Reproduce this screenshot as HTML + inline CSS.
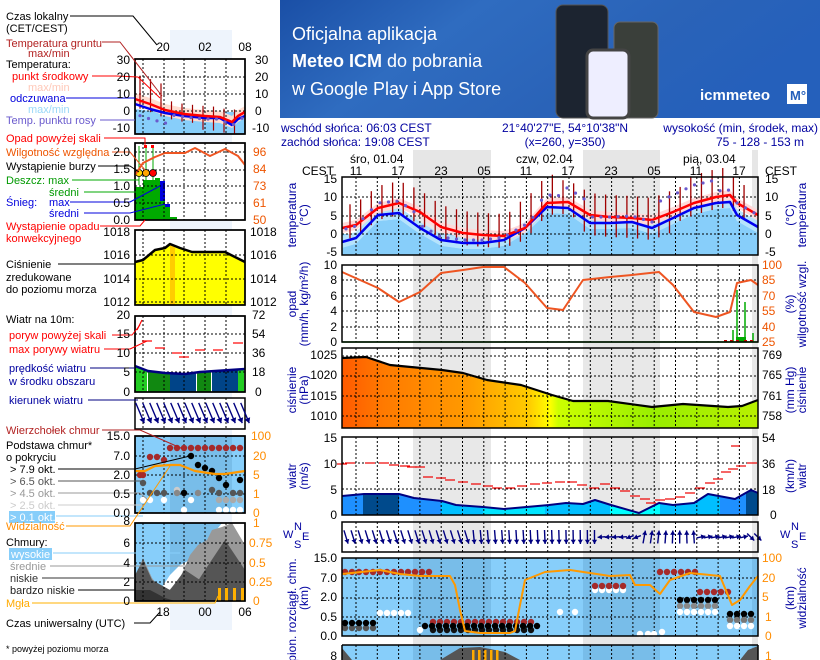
<!DOCTYPE html>
<html><head><meta charset="utf-8"><style>
html,body{margin:0;padding:0;background:#fff;}
svg{display:block;font-family:"Liberation Sans",sans-serif;}
</style></head><body>
<svg id="s" width="820" height="660" viewBox="0 0 820 660" xmlns="http://www.w3.org/2000/svg">
<defs>
<linearGradient id="ban" x1="0" y1="0" x2="1" y2="0.3">
<stop offset="0" stop-color="#1a4fa6"/><stop offset="0.35" stop-color="#2f6cc0"/><stop offset="0.7" stop-color="#2a63b8"/><stop offset="1" stop-color="#2560bb"/></linearGradient>
<linearGradient id="pres" x1="0" y1="0" x2="1" y2="0">
<stop offset="0" stop-color="#ff5a00"/><stop offset="0.1" stop-color="#ff7a00"/><stop offset="0.3" stop-color="#ff9a00"/><stop offset="0.45" stop-color="#ffcc00"/><stop offset="0.5" stop-color="#ffff00"/><stop offset="0.52" stop-color="#ccff00"/><stop offset="0.75" stop-color="#99ee00"/><stop offset="1" stop-color="#b8f000"/></linearGradient>
</defs>
<rect x="280" y="0" width="540" height="118" fill="url(#ban)"/>
<rect x="556" y="5" width="52" height="113" rx="7" fill="#1c2430" stroke="#555"/>
<rect x="614" y="22" width="44" height="96" rx="6" fill="#3a3f3a" stroke="#666"/>
<rect x="587" y="50" width="42" height="68" rx="6" fill="#eef" stroke="#444" stroke-width="3"/>
<text x="292" y="40" fill="#fff" font-size="18">Oficjalna aplikacja</text>
<text x="292" y="67" fill="#fff" font-size="18"><tspan font-weight="bold">Meteo ICM</tspan> do pobrania</text>
<text x="292" y="95" fill="#fff" font-size="18">w Google Play i App Store</text>
<text x="700" y="100" fill="#fff" font-size="15" font-weight="bold">icmmeteo</text>
<rect x="787" y="84" width="20" height="20" fill="#fff"/><text x="790" y="100" fill="#2560bb" font-size="13" font-weight="bold">M°</text>
<g id="g"></g>
<g font-size="12" fill="#000">
<text x="281" y="132" fill="#0000a0">wschód słońca: 06:03 CEST</text>
<text x="281" y="146" fill="#0000a0">zachód słońca: 19:08 CEST</text>
<text x="565" y="132" fill="#0000a0" text-anchor="middle">21°40'27"E, 54°10'38"N</text>
<text x="565" y="146" fill="#0000a0" text-anchor="middle">(x=260,  y=350)</text>
<text x="818" y="132" fill="#0000a0" text-anchor="end">wysokość (min, środek, max)</text>
<text x="760" y="146" fill="#0000a0" text-anchor="middle">75 - 128 - 153 m</text>
<text x="350" y="163">śro, 01.04</text><text x="516" y="163">czw, 02.04</text><text x="683" y="163">pią, 03.04</text>
<text x="302" y="175">CEST</text><text x="765" y="175">CEST</text>
<g text-anchor="middle"><text x="356" y="175">11</text><text x="398" y="175">17</text><text x="441" y="175">23</text><text x="484" y="175">05</text><text x="526" y="175">11</text><text x="568" y="175">17</text><text x="611" y="175">23</text><text x="654" y="175">05</text><text x="696" y="175">11</text><text x="739" y="175">17</text></g>
<g text-anchor="end">
<text x="337" y="183">15</text><text x="337" y="201">10</text><text x="337" y="220">5</text><text x="337" y="238">0</text><text x="337" y="256">-5</text>
<text x="337" y="269">10</text><text x="337" y="284">8</text><text x="337" y="300">6</text><text x="337" y="315">4</text><text x="337" y="331">2</text><text x="337" y="346">0</text>
<text x="337" y="359">1025</text><text x="337" y="379">1020</text><text x="337" y="400">1015</text><text x="337" y="420">1010</text>
<text x="337" y="442">15</text><text x="337" y="468">10</text><text x="337" y="494">5</text><text x="337" y="519">0</text>
<text x="337" y="562">15.0</text><text x="337" y="582">7.0</text><text x="337" y="601">2.0</text><text x="337" y="621">0.5</text><text x="337" y="640">0.0</text>
<text x="337" y="660">8</text>
</g>
<g>
<text x="765" y="183">15</text><text x="765" y="201">10</text><text x="765" y="220">5</text><text x="765" y="238">0</text><text x="765" y="256">-5</text>
<g fill="#ee5500"><text x="762" y="269">100</text><text x="762" y="284">85</text><text x="762" y="300">70</text><text x="762" y="315">55</text><text x="762" y="331">40</text><text x="762" y="346">25</text></g>
<text x="762" y="359">769</text><text x="762" y="379">765</text><text x="762" y="400">761</text><text x="762" y="420">758</text>
<text x="762" y="442">54</text><text x="762" y="468">36</text><text x="762" y="494">18</text><text x="770" y="519">0</text>
<g fill="#ff8c00"><text x="762" y="562">100</text><text x="762" y="582">20</text><text x="762" y="601">5</text><text x="765" y="621">1</text><text x="765" y="640">0</text><text x="765" y="660">1</text></g>
</g>
<g fill="#0000a0" text-anchor="middle">
<text transform="translate(296,215) rotate(-90)">temperatura</text><text transform="translate(308,215) rotate(-90)">(°C)</text>
<text transform="translate(794,215) rotate(-90)">(°C)</text><text transform="translate(806,215) rotate(-90)">temperatura</text>
<text transform="translate(296,304) rotate(-90)">opad</text><text transform="translate(308,304) rotate(-90)">(mm/h, kg/m²/h)</text>
<text transform="translate(794,304) rotate(-90)">(%)</text><text transform="translate(806,304) rotate(-90)">wilgotność wzgl.</text>
<text transform="translate(296,390) rotate(-90)">ciśnienie</text><text transform="translate(308,390) rotate(-90)">(hPa)</text>
<text transform="translate(794,390) rotate(-90)">(mm Hg)</text><text transform="translate(806,390) rotate(-90)">ciśnienie</text>
<text transform="translate(296,476) rotate(-90)">wiatr</text><text transform="translate(308,476) rotate(-90)">(m/s)</text>
<text transform="translate(794,476) rotate(-90)">(km/h)</text><text transform="translate(806,476) rotate(-90)">wiatr</text>
<text transform="translate(296,610) rotate(-90)">pion. rozciągł. chm.</text><text transform="translate(308,598) rotate(-90)">(km)</text>
<text transform="translate(794,598) rotate(-90)">(km)</text><text transform="translate(806,598) rotate(-90)">widzialność</text>
</g>
<g fill="#0000a0" font-size="11"><text x="283" y="538">W</text><text x="294" y="530">N</text><text x="294" y="548">S</text><text x="302" y="540">E</text>
<text x="780" y="538">W</text><text x="791" y="530">N</text><text x="791" y="548">S</text><text x="799" y="540">E</text></g>
<g font-size="11">
<text x="6" y="20">Czas lokalny</text><text x="6" y="32">(CET/CEST)</text>
<text x="6" y="47" fill="#b22222">Temperatura gruntu</text><text x="28" y="57" fill="#b22222">max/min</text>
<text x="6" y="68">Temperatura:</text>
<text x="12" y="80" fill="#ff0000">punkt środkowy</text><text x="28" y="91" fill="#ffc8b8">max/min</text>
<text x="10" y="102" fill="#0000dd">odczuwana</text><text x="28" y="113" fill="#9ad8f8">max/min</text>
<text x="6" y="124" fill="#6a5acd">Temp. punktu rosy</text>
<text x="6" y="142" fill="#ff0000">Opad powyżej skali</text>
<text x="6" y="156" fill="#ee5500">Wilgotność względna</text>
<text x="6" y="170">Wystąpienie burzy</text>
<text x="6" y="184" fill="#009900">Deszcz: max</text><text x="49" y="196" fill="#009900">średni</text>
<text x="6" y="206" fill="#0000dd">Śnieg:</text><text x="49" y="206" fill="#0000dd">max</text><text x="49" y="217" fill="#0000dd">średni</text>
<text x="6" y="230" fill="#ff0000">Wystąpienie opadu</text><text x="6" y="242" fill="#ff0000">konwekcyjnego</text>
<text x="6" y="268">Ciśnienie</text><text x="6" y="281">zredukowane</text><text x="6" y="293">do poziomu morza</text>
<text x="6" y="323">Wiatr na 10m:</text>
<text x="9" y="339" fill="#ff0000">poryw powyżej skali</text><text x="9" y="353" fill="#ff0000">max porywy wiatru</text>
<text x="9" y="372" fill="#0000a0">prędkość wiatru</text><text x="9" y="385" fill="#0000a0">w środku obszaru</text>
<text x="9" y="404" fill="#0000a0">kierunek wiatru</text>
<text x="6" y="434" fill="#b22222">Wierzchołek chmur</text>
<text x="6" y="449">Podstawa chmur*</text><text x="6" y="461">o pokryciu</text>
<text x="10" y="473">&gt; 7.9 okt.</text>
<text x="10" y="485" fill="#555">&gt; 6.5 okt.</text>
<text x="10" y="497" fill="#999">&gt; 4.5 okt.</text>
<text x="10" y="509" fill="#ccc">&gt; 2.5 okt.</text>
<rect x="9" y="511" width="46" height="12" fill="#87cefa"/><text x="10" y="521" fill="#fff">&gt; 0.1 okt.</text>
<text x="6" y="530" fill="#ff8c00">Widzialność</text>
<text x="6" y="546">Chmury:</text>
<rect x="9" y="548" width="43" height="12" fill="#87cefa"/><text x="11" y="558" fill="#fff">wysokie</text>
<text x="10" y="570" fill="#999">średnie</text><text x="10" y="582" fill="#333">niskie</text><text x="10" y="594" fill="#222">bardzo niskie</text>
<text x="6" y="607" fill="#ffaa00">Mgła</text>
<text x="6" y="627">Czas uniwersalny (UTC)</text>
</g>
<g text-anchor="middle"><text x="163" y="51">20</text><text x="205" y="51">02</text><text x="245" y="51">08</text>
<text x="163" y="616">18</text><text x="205" y="616">00</text><text x="245" y="616">06</text></g>
<text x="6" y="652" font-size="9">* powyżej poziomu morza</text>
<g text-anchor="end">
<text x="130" y="64">30</text><text x="130" y="81">20</text><text x="130" y="98">10</text><text x="130" y="115">0</text><text x="130" y="132">-10</text>
<text x="130" y="156">2.0</text><text x="130" y="173">1.5</text><text x="130" y="190">1.0</text><text x="130" y="207">0.5</text><text x="130" y="224">0.0</text>
<text x="130" y="236">1018</text><text x="130" y="259">1016</text><text x="130" y="283">1014</text><text x="130" y="306">1012</text>
<text x="130" y="319">20</text><text x="130" y="338">15</text><text x="130" y="357">10</text><text x="130" y="376">5</text><text x="130" y="396">0</text>
<text x="130" y="440">15.0</text><text x="130" y="460">7.0</text><text x="130" y="479">2.0</text><text x="130" y="498">0.5</text><text x="130" y="517">0.0</text>
<text x="130" y="525">8</text><text x="130" y="547">6</text><text x="130" y="567">4</text><text x="130" y="586">2</text><text x="130" y="605">0</text>
</g>
<text x="255" y="64">30</text><text x="255" y="81">20</text><text x="255" y="98">10</text><text x="255" y="115">0</text><text x="252" y="132">-10</text>
<g fill="#ee5500"><text x="253" y="156">96</text><text x="253" y="173">84</text><text x="253" y="190">73</text><text x="253" y="207">61</text><text x="253" y="224">50</text></g>
<text x="250" y="236">1018</text><text x="250" y="259">1016</text><text x="250" y="283">1014</text><text x="250" y="306">1012</text>
<text x="252" y="319">72</text><text x="252" y="338">54</text><text x="252" y="357">36</text><text x="252" y="376">18</text><text x="255" y="396">0</text>
<g fill="#ff8c00"><text x="251" y="440">100</text><text x="253" y="460">20</text><text x="253" y="479">5</text><text x="253" y="498">1</text><text x="253" y="517">0</text>
<text x="253" y="527">1</text><text x="249" y="547">0.75</text><text x="249" y="567">0.5</text><text x="249" y="586">0.25</text><text x="253" y="605">0</text></g>
</g>
</svg>
<script>
(function(){
var NS="http://www.w3.org/2000/svg",g=document.getElementById('g');
function el(t,a){var e=document.createElementNS(NS,t);for(var k in a)e.setAttribute(k,a[k]);g.appendChild(e);return e;}
function pts(a){return a.map(function(p){return p[0]+','+p[1]}).join(' ');}
function line(a,c,w){el('polyline',{points:pts(a),fill:'none',stroke:c,'stroke-width':w||2,'stroke-linejoin':'round'});}
function area(a,b,c){el('polygon',{points:pts(a.concat([[a[a.length-1][0],b],[a[0][0],b]])),fill:c});}
function band(a,d,c){var up=a.map(function(p){return [p[0],p[1]-d]}),dn=a.map(function(p){return [p[0],p[1]+d]}).reverse();el('polygon',{points:pts(up.concat(dn)),fill:c});}
function rect(x,y,w,h,c,extra){var o={x:x,y:y,width:w,height:h,fill:c};for(var k in extra)o[k]=extra[k];return el('rect',o);}
function dash(x1,y1,x2,y2){el('line',{x1:x1,y1:y1,x2:x2,y2:y2,stroke:'#000','stroke-width':1,'stroke-dasharray':'2,2'});}
function interp(a,x){for(var i=1;i<a.length;i++)if(x<=a[i][0]){var t=(x-a[i-1][0])/(a[i][0]-a[i-1][0]);return a[i-1][1]+t*(a[i][1]-a[i-1][1]);}return a[a.length-1][1];}
var X0=342,X1=758,GX=[];for(var k=0;k<19;k++)GX.push(356+21.3*k);
var nights=[[413,491],[583,660],[752,758]];
rect(170,30,62,600,'#eef4fc');
nights.forEach(function(n){rect(n[0],150,n[1]-n[0],510,'#e6e6e6');});
var T0=177,T1=255;
rect(X0,T0,X1-X0,T1-T0,'#fff');
nights.forEach(function(n){rect(n[0],T0,n[1]-n[0],T1-T0,'#e8e8e8');});
var red=[[342,228],[356,225],[378,208],[399,203],[420,212],[441,227],[463,233],[483,235],[504,236],[525,228],[547,203],[568,202],[590,215],[610,217],[632,218],[652,220],[673,212],[694,203],[716,197],[730,195],[737,203],[758,215]];
var blue=[[342,242],[356,238],[378,215],[399,213],[420,228],[441,240],[463,243],[483,243],[504,240],[525,228],[547,207],[568,208],[590,223],[610,223],[632,222],[652,228],[673,218],[694,208],[716,203],[730,202],[737,215],[758,227]];
rect(X0,234,X1-X0,T1-234,'#87cefa');
band(blue,6,'#b5e3fc');
area(blue.map(function(p){return [p[0],p[1]+6]}),T1,'#87cefa');
band(red,5,'#ffd9d9');
GX.forEach(function(x){dash(x,T0,x,T1);});
[197,216,234].forEach(function(y){dash(X0,y,X1,y);});
for(var x=350;x<750;x+=10.65){var r=interp(red,x);el('line',{x1:x,y1:r-(x>520&&x<560||x>690&&x<730?28:22),x2:x,y2:r+(x>580&&x<680?20:12),stroke:'#a00000','stroke-width':1.3});}
line(blue,'#0000ee',2.5);line(red,'#ff0000',2.5);
for(var x=346;x<758;x+=8.5){var y=interp(blue,x)+ (x<420?-12:x<540?-3:x<560?-12:x<585?-20:x<660?-6:x<720?-23:-12);el('circle',{cx:x,cy:y,r:1.6,fill:'#6a5acd'});}
rect(X0,T0,X1-X0,T1-T0,'none',{stroke:'#000','stroke-width':1.5});
var P0=265,P1=342;rect(X0,P0,X1-X0,P1-P0,'#fff');
nights.forEach(function(n){rect(n[0],P0,n[1]-n[0],P1-P0,'#e8e8e8');});
GX.forEach(function(x){dash(x,P0,x,P1);});[280,296,311,327].forEach(function(y){dash(X0,y,X1,y);});
[[733,330],[737,290],[745,302],[753,333]].forEach(function(b){el('line',{x1:b[0],y1:b[1],x2:b[0],y2:P1,stroke:'#00aa00','stroke-width':1.5});});
rect(736,337,10,5,'#00aa00');
[725,731,737,745,751].forEach(function(x){rect(x-1,340,3,2,'#cc0000');});
line([[342,272],[378,288],[399,302],[420,292],[441,273],[463,270],[483,267],[504,267],[525,283],[547,308],[563,310],[583,280],[610,277],[632,275],[659,272],[673,285],[694,312],[716,317],[730,312],[737,283],[751,280],[758,285]],'#ee5522',2);
el('line',{x1:X0,y1:P1,x2:X1,y2:P1,stroke:'#00aa00','stroke-width':1.5});
rect(X0,P0,X1-X0,P1-P0,'none',{stroke:'#000','stroke-width':1.5});
var R0=348,R1=428;rect(X0,R0,X1-X0,R1-R0,'#fff');
nights.forEach(function(n){rect(n[0],R0,n[1]-n[0],R1-R0,'#e8e8e8');});
var pr=[[342,358],[366,357],[390,365],[442,370],[463,373],[487,380],[521,385],[552,395],[573,401],[608,401],[652,407],[683,404],[728,407],[742,406],[758,400]];
area(pr,R1,'url(#pres)');
GX.forEach(function(x){dash(x,R0,x,R1);});[356,376,396,416].forEach(function(y){dash(X0,y,X1,y);});
line(pr,'#000',2.2);
rect(X0,R0,X1-X0,R1-R0,'none',{stroke:'#000','stroke-width':1.5});
var W0=437,W1=515;rect(X0,W0,X1-X0,W1-W0,'#fff');
nights.forEach(function(n){rect(n[0],W0,n[1]-n[0],W1-W0,'#e8e8e8');});
var wd=[[342,496],[364,494],[399,494],[414,498],[442,501],[456,505],[483,507],[504,509],[549,505],[566,503],[583,504],[595,500],[611,505],[639,513],[659,503],[673,505],[694,503],[708,494],[735,499],[751,490],[758,493]];
var segs=[[342,363,'#1e90ff'],[363,399,'#004a8c'],[399,441,'#1e90ff'],[441,483,'#00bfff'],[483,545,'#00e5ff'],[545,610,'#00bfff'],[610,660,'#00ffff'],[660,720,'#00bfff'],[720,746,'#1e90ff'],[746,758,'#004a8c']];
segs.forEach(function(s){var a=[];for(var x=s[0];x<=s[1];x+=2)a.push([x,interp(wd,x)]);a.push([s[1],interp(wd,s[1])]);area(a,W1,s[2]);});
GX.forEach(function(x){dash(x,W0,x,W1);});[463,489].forEach(function(y){dash(X0,y,X1,y);});
line(wd,'#000080',2);
var gust=[[342,464],[350,463],[370,463],[384,463],[394,465],[405,466],[412,467],[420,467],[428,477],[441,478],[450,480],[463,482],[476,484],[488,486],[497,488],[510,488],[522,486],[535,484],[547,483],[560,482],[572,482],[582,485],[594,488],[605,484],[615,488],[625,491],[635,496],[645,499],[651,503],[660,500],[670,499],[680,497],[690,493],[700,488],[710,483],[718,479],[726,472],[733,469],[741,466],[752,463]];
gust.forEach(function(p){el('line',{x1:p[0]-5,y1:p[1],x2:p[0]+5,y2:p[1],stroke:'#ee0000','stroke-width':1.2});});
el('line',{x1:731,y1:446,x2:740,y2:446,stroke:'#ee0000','stroke-width':1.2});
rect(X0,W0,X1-X0,W1-W0,'none',{stroke:'#000','stroke-width':1.5});
var D0=522,D1=552;rect(X0,D0,X1-X0,D1-D0,'#fff');
nights.forEach(function(n){rect(n[0],D0,n[1]-n[0],D1-D0,'#e8e8e8');});
GX.forEach(function(x){dash(x,D0,x,D1);});
function arrow(cx,cy,ang,len,hs){hs=hs||5;var dx=Math.sin(ang)*len/2,dy=Math.cos(ang)*len/2;el('line',{x1:cx-dx,y1:cy-dy,x2:cx+dx,y2:cy+dy,stroke:'#000080','stroke-width':1.4});var hx=cx+dx,hy=cy+dy,a1=ang+2.6,a2=ang-2.6;el('polygon',{points:hx+','+hy+' '+(hx+Math.sin(a1)*hs)+','+(hy+Math.cos(a1)*hs)+' '+(hx+Math.sin(a2)*hs)+','+(hy+Math.cos(a2)*hs),fill:'#000080'});}
for(var x=346;x<758;x+=7.1){var a,l=14;if(x<470)a=0.3;else if(x<600)a=0.1-(x-470)/1300;else if(x<625){a=-1.5;l=8;}else if(x<640){a=-1.2;l=8}else if(x<700){a=Math.PI-0.2+(x-640)/200;l=13;}else if(x<745){a=Math.PI/2+0.2;l=9;}else{a=0.8;l=10;}arrow(x,537,a,l);}
rect(X0,D0,X1-X0,D1-D0,'none',{stroke:'#000','stroke-width':1.5});
var C0=558,C1=636;rect(X0,C0,X1-X0,C1-C0,'#87cefa');
nights.forEach(function(n){rect(n[0],C0,n[1]-n[0],C1-C0,'#78bde9');});
GX.forEach(function(x){dash(x,C0,x,C1);});[578,598,617].forEach(function(y){dash(X0,y,X1,y);});
function dot(x,y,c){el('circle',{cx:x,cy:y,r:3.2,fill:c});}
for(var x=345;x<430;x+=7)dot(x,572,'#a52a2a');
for(var x=433;x<535;x+=7)dot(x,630,'#111');
for(var x=433;x<535;x+=7)dot(x,622,'#a52a2a');
for(var x=345;x<375;x+=7){dot(x,628,'#555');dot(x,623,'#000');}
for(x=425;x<540;x+=7)dot(x,626,'#000');
for(x=380;x<410;x+=7)dot(x,613,'#fff');
[[420,630],[560,612],[575,612],[640,634],[648,634],[654,634],[662,632]].forEach(function(p){dot(p[0],p[1],'#fff');});
for(x=595;x<630;x+=7){dot(x,590,'#fff');dot(x,586,'#a52a2a');}
for(x=660;x<700;x+=7){dot(x,572,'#a52a2a');}
for(x=680;x<720;x+=7){dot(x,600,'#000');dot(x,606,'#888');dot(x,612,'#fff');}
for(x=700;x<730;x+=7)dot(x,592,'#a52a2a');
for(x=730;x<758;x+=7){dot(x,614,'#000');dot(x,620,'#777');dot(x,626,'#fff');}
line([[342,574],[380,570],[400,574],[420,576],[450,576],[455,585],[460,610],[465,631],[480,633],[510,633],[515,631],[520,605],[525,580],[545,572],[570,570],[610,576],[630,575],[635,585],[650,585],[660,594],[670,580],[690,573],[720,576],[732,605],[740,600],[750,586],[758,576]],'#ff9900',2);
rect(X0,C0,X1-X0,C1-C0,'none',{stroke:'#000','stroke-width':1.5});
rect(X0,645,X1-X0,20,'#87cefa');
nights.forEach(function(n){rect(n[0],645,n[1]-n[0],20,'#78bde9');});
el('polygon',{points:'342,660 342,648 352,660',fill:'#555'});
el('polygon',{points:'440,660 460,648 480,647 505,652 520,660',fill:'#555'});
[472,478,484,490,496].forEach(function(x){rect(x,650,2.5,10,'#ffaa00');});
el('polygon',{points:'740,660 748,650 758,646 758,660',fill:'#555'});
GX.forEach(function(x){dash(x,645,x,660);});
el('line',{x1:X0,y1:645,x2:X1,y2:645,stroke:'#000','stroke-width':1.5});
el('line',{x1:X0,y1:645,x2:X0,y2:660,stroke:'#000','stroke-width':1.5});el('line',{x1:X1,y1:645,x2:X1,y2:660,stroke:'#000','stroke-width':1.5});
var L0=135,L1=245,LG=[143,164,184,205,226];
function lpanel(y0,y1,fill){rect(L0,y0,L1-L0,y1-y0,fill||'#fff');}
function lframe(y0,y1,hl){LG.forEach(function(x){dash(x,y0,x,y1);});hl.forEach(function(y){dash(L0,y,L1,y);});rect(L0,y0,L1-L0,y1-y0,'none',{stroke:'#000','stroke-width':1.5});}
lpanel(59,134);
var lr=[[135,99],[150,104],[165,110],[184,114],[205,116],[220,117],[232,122],[238,116],[245,112]];
var lb=[[135,104],[150,109],[165,113],[184,116],[205,118],[220,118],[232,125],[238,119],[245,116]];
rect(L0,112,L1-L0,22,'#87cefa');
area([[135,109],[165,113],[184,116],[205,118],[245,118]],134,'#87cefa');
band(lr,6,'#ffdcd0');
lframe(59,134,[77,94,111]);
for(var x=140;x<245;x+=10.5){var r=interp(lr,x);el('line',{x1:x,y1:r-(x<170?25:10),x2:x,y2:r+(x>200?14:8),stroke:'#a00000','stroke-width':1.2});}
line(lb,'#0000ee',2.5);line(lr,'#ff0000',2.5);
for(var x=140;x<245;x+=8.5)el('circle',{cx:x,cy:interp(lb,x)+(x<170?10:1),r:1.6,fill:'#6a5acd'});
rect(L0,59,L1-L0,75,'none',{stroke:'#000','stroke-width':1.5});
lpanel(143,220);
rect(135,187,8,33,'#00aa00');rect(143,180,12,40,'#00aa00');rect(155,178,5,42,'#00aa00');rect(160,181,5,20,'#0000dd');rect(160,201,5,19,'#00aa00');rect(165,204,5,3,'#0000dd');rect(165,207,5,13,'#00aa00');rect(170,217,7,3,'#00aa00');
lframe(143,220,[152,170,186,203]);
[[139,173,'#ffd700'],[146,173,'#ffa500'],[153,173,'#ff0000']].forEach(function(p){el('line',{x1:p[0],y1:146,x2:p[0],y2:185,stroke:'#00aa00','stroke-width':1});el('circle',{cx:p[0],cy:p[1],r:3.5,fill:p[2],stroke:'#000','stroke-width':0.8});});
rect(144,145,3,3,'#f00');rect(151,145,3,3,'#f00');
line([[135,175],[143,163],[155,157],[165,153],[185,153],[195,148],[210,156],[225,149],[238,156],[245,165]],'#ee5522',2);
rect(L0,143,L1-L0,77,'none',{stroke:'#000','stroke-width':1.5});
lpanel(230,305);
var lp=[[135,262],[143,260],[155,250],[165,248],[170,244],[180,248],[192,252],[225,252],[245,262]];
area(lp,305,'#ffff00');rect(170,245,5,60,'#ffcc00');
lframe(230,305,[255,279,302]);line(lp,'#000',2.5);
rect(L0,230,L1-L0,75,'none',{stroke:'#000','stroke-width':1.5});
lpanel(316,392);
var lw=[[135,366],[148,371],[165,373],[185,374],[200,372],[230,370],[245,369]];
[[135,148,'#22cc22'],[148,170,'#118811'],[170,197,'#004488'],[197,212,'#118811'],[212,238,'#004488'],[238,245,'#22cc22']].forEach(function(s){var a=[];for(var x=s[0];x<=s[1];x+=2)a.push([x,interp(lw,x)]);area(a,392,s[2]);});
lframe(316,392,[334,353,372]);line(lw,'#000080',2.5);
line([[137,330],[142,320]],'#f00',1.2);
[[147,341],[160,348],[177,353],[184,357],[200,350],[218,350],[238,343]].forEach(function(p){el('line',{x1:p[0]-5,y1:p[1],x2:p[0]+5,y2:p[1],stroke:'#f00','stroke-width':1.2});});
rect(L0,316,L1-L0,76,'none',{stroke:'#000','stroke-width':1.5});
lpanel(398,429);lframe(398,429,[]);
for(var x=140;x<248;x+=7)arrow(x,413,0.4,22,6);
lpanel(436,513,'#87cefa');rect(170,436,62,77,'#78bde9');
lframe(436,513,[456,475,494]);
[[140,475,'#a52a2a'],[143,475,'#a52a2a'],[150,457,'#a52a2a'],[157,457,'#a52a2a'],[164,460,'#a52a2a'],[143,483,'#555'],[150,493,'#555'],[157,493,'#555'],[164,493,'#555'],[177,490,'#ccc'],[184,493,'#000'],[177,493,'#888']].forEach(function(p){dot(p[0],p[1],p[2]);});
for(var x=170;x<245;x+=7){dot(x,448,'#a52a2a');}
[[191,456,'#000'],[198,465,'#000'],[205,468,'#000'],[212,471,'#000'],[219,478,'#000'],[226,485,'#000'],[240,480,'#000'],[198,493,'#888'],[212,490,'#555'],[219,493,'#555'],[233,493,'#555'],[226,500,'#aaa'],[219,500,'#aaa'],[240,493,'#555'],[233,500,'#aaa'],[240,500,'#aaa'],[219,510,'#fff'],[226,510,'#fff'],[233,510,'#fff'],[240,510,'#fff'],[184,510,'#fff'],[191,500,'#fff'],[164,500,'#fff'],[150,500,'#fff'],[143,500,'#fff']].forEach(function(p){dot(p[0],p[1],p[2]);});
line([[135,471],[145,471],[155,466],[170,465],[180,465],[195,471],[215,474],[225,474],[245,471]],'#ff9900',2.2);
rect(L0,436,L1-L0,77,'none',{stroke:'#000','stroke-width':1.5});
lpanel(523,601,'#87cefa');rect(170,523,62,78,'#78bde9');
el('polygon',{points:'135,601 135,575 143,562 152,580 160,590 170,575 180,565 190,560 200,548 210,538 222,523 245,523 245,601',fill:'#fff'});
el('polygon',{points:'135,601 135,578 143,558 152,578 165,595 180,578 190,555 198,545 207,540 212,530 222,527 232,523 245,545 245,601',fill:'#999'});
el('polygon',{points:'135,601 135,575 143,560 152,580 170,590 185,570 200,580 205,600',fill:'#555'});
el('polygon',{points:'185,601 205,570 215,555 225,540 235,555 245,570 245,601',fill:'#555'});
el('polygon',{points:'135,601 135,590 150,590 165,598 175,601',fill:'#333'});
lframe(523,601,[543,563,582]);
[218,225,233,241].forEach(function(x){rect(x,588,3,13,'#ffb000');});
rect(L0,523,L1-L0,78,'none',{stroke:'#000','stroke-width':1.5});
function ll(a,c){line(a,c,1);}
ll([[70,16],[133,16],[157,45]],'#000');
ll([[102,42],[120,42],[162,96]],'#b22222');
ll([[92,76],[116,76],[138,77],[160,98]],'#f00');
ll([[66,98],[135,98]],'#0000dd');
ll([[100,120],[135,120]],'#6a5acd');
ll([[104,138],[145,138],[145,145]],'#f00');
ll([[112,152],[130,152],[145,170]],'#ee5522');
ll([[98,166],[130,166],[139,172]],'#000');
ll([[72,180],[139,180]],'#00aa00');
ll([[84,192],[145,192]],'#00aa00');
ll([[70,202],[130,202],[160,186]],'#0000dd');
ll([[84,213],[130,213],[165,204]],'#0000dd');
ll([[100,226],[140,226],[145,220]],'#f00');
ll([[58,264],[135,264]],'#000');
ll([[112,335],[132,335],[140,325]],'#f00');
ll([[104,349],[130,349],[147,341]],'#f00');
ll([[90,368],[135,368]],'#000080');
ll([[88,400],[138,400]],'#000080');
ll([[102,430],[140,430],[183,449]],'#b22222');
ll([[58,469],[135,469],[190,456]],'#000');
ll([[58,481],[143,481]],'#555');
ll([[58,493],[140,493],[148,500]],'#999');
ll([[58,505],[145,505]],'#ccc');
ll([[56,516],[143,516]],'#87cefa');
ll([[66,526],[130,526],[170,466]],'#ff9900');
ll([[53,553],[180,553]],'#87cefa');
ll([[50,566],[190,566]],'#999');
ll([[42,578],[135,578]],'#333');
ll([[78,590],[135,590]],'#000');
ll([[32,603],[215,603],[218,596]],'#ffb000');
ll([[134,623],[150,623],[160,612]],'#000');
})();
</script>
</body></html>
